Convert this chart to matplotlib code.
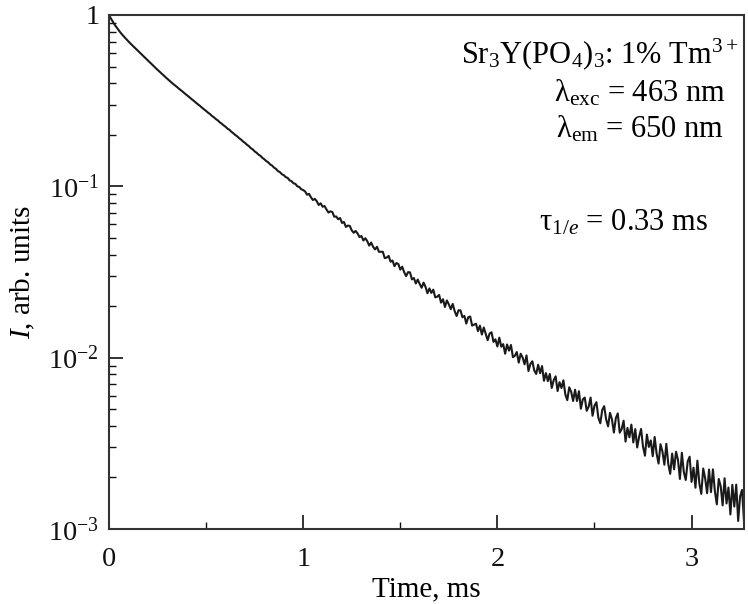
import numpy as np
import matplotlib
matplotlib.use("Agg")
import matplotlib.pyplot as plt
from matplotlib.ticker import LogLocator, NullFormatter, MultipleLocator

# decay curve: log10 of intensity, one value every 0.01 ms
time_step_ms = 0.01
log_intensity = [
    0.000, -0.021, -0.040, -0.058, -0.074, -0.089, -0.104, -0.117, -0.130, -0.142,
    -0.154, -0.166, -0.177, -0.188, -0.199, -0.210, -0.221, -0.232, -0.243, -0.254,
    -0.265, -0.276, -0.287, -0.298, -0.309, -0.320, -0.330, -0.341, -0.351, -0.362,
    -0.372, -0.382, -0.392, -0.402, -0.411, -0.420, -0.430, -0.439, -0.448, -0.458,
    -0.467, -0.476, -0.486, -0.495, -0.504, -0.514, -0.523, -0.532, -0.542, -0.551,
    -0.560, -0.570, -0.578, -0.589, -0.597, -0.607, -0.615, -0.626, -0.634, -0.644,
    -0.652, -0.663, -0.670, -0.681, -0.690, -0.700, -0.708, -0.719, -0.727, -0.738,
    -0.746, -0.757, -0.765, -0.777, -0.784, -0.796, -0.804, -0.815, -0.822, -0.834,
    -0.842, -0.853, -0.860, -0.872, -0.879, -0.891, -0.898, -0.911, -0.917, -0.929,
    -0.935, -0.946, -0.951, -0.965, -0.970, -0.982, -0.986, -1.000, -1.004, -1.017,
    -1.022, -1.030, -1.049, -1.044, -1.064, -1.080, -1.073, -1.087, -1.109, -1.099,
    -1.119, -1.115, -1.135, -1.153, -1.146, -1.150, -1.177, -1.176, -1.192, -1.185,
    -1.214, -1.208, -1.237, -1.229, -1.231, -1.257, -1.271, -1.260, -1.275, -1.296,
    -1.290, -1.316, -1.303, -1.320, -1.346, -1.328, -1.353, -1.368, -1.353, -1.382,
    -1.382, -1.382, -1.419, -1.416, -1.406, -1.440, -1.433, -1.466, -1.448, -1.453,
    -1.486, -1.469, -1.501, -1.524, -1.501, -1.502, -1.543, -1.535, -1.567, -1.544,
    -1.570, -1.592, -1.562, -1.587, -1.624, -1.596, -1.622, -1.603, -1.648, -1.644,
    -1.634, -1.679, -1.659, -1.704, -1.666, -1.689, -1.717, -1.686, -1.728, -1.757,
    -1.723, -1.724, -1.764, -1.756, -1.801, -1.764, -1.760, -1.813, -1.807, -1.802,
    -1.845, -1.813, -1.865, -1.824, -1.862, -1.898, -1.859, -1.852, -1.908, -1.893,
    -1.935, -1.883, -1.936, -1.921, -1.977, -1.923, -1.959, -1.926, -1.997, -1.989,
    -1.967, -2.029, -1.977, -1.999, -2.039, -1.987, -2.078, -2.037, -2.021, -2.075,
    -2.095, -2.041, -2.091, -2.049, -2.135, -2.090, -2.137, -2.095, -2.177, -2.131,
    -2.109, -2.195, -2.143, -2.177, -2.132, -2.215, -2.248, -2.173, -2.199, -2.253,
    -2.187, -2.253, -2.196, -2.298, -2.243, -2.233, -2.310, -2.286, -2.233, -2.339,
    -2.280, -2.260, -2.350, -2.383, -2.305, -2.283, -2.360, -2.401, -2.322, -2.360,
    -2.437, -2.353, -2.325, -2.438, -2.417, -2.368, -2.490, -2.410, -2.465, -2.391,
    -2.495, -2.417, -2.524, -2.461, -2.416, -2.520, -2.572, -2.449, -2.521, -2.483,
    -2.575, -2.463, -2.560, -2.618, -2.505, -2.548, -2.625, -2.503, -2.620, -2.678,
    -2.560, -2.652, -2.549, -2.596, -2.708, -2.555, -2.667, -2.714, -2.606, -2.578,
    -2.725, -2.642, -2.759, -2.601, -2.733, -2.795, -2.647, -2.704, -2.791, -2.653,
    -2.785, -2.652, -2.779, -2.856, -2.708, -2.750, -2.862, -2.704, -2.851, -2.758,
    -2.915, -2.742, -2.869, -2.741, -2.953, -2.810, -2.772, -2.954,
]
time_ms = np.arange(len(log_intensity)) * time_step_ms
intensity = 10.0 ** np.array(log_intensity)

y_ticks = [1e-3, 1e-2, 1e-1, 1]
y_tick_labels = ["$10^{-3}$", "$10^{-2}$", "$10^{-1}$", "1"]
x_ticks = [0, 1, 2, 3]

plt.rcParams["font.family"] = ["Liberation Serif", "DejaVu Serif"]
plt.rcParams["mathtext.fontset"] = "custom"
plt.rcParams["mathtext.rm"] = "Liberation Serif"
plt.rcParams["mathtext.it"] = "Liberation Serif:italic"
plt.rcParams["mathtext.bf"] = "Liberation Serif:bold"

W, H = 748, 604
fig = plt.figure(figsize=(W / 100, H / 100), dpi=100)
ax = fig.add_axes([109 / W, 1 - 529 / H, (744 - 109) / W, (529 - 15) / H])

ax.plot(time_ms, intensity, color="#1a1a1a", linewidth=1.5)

ax.set_yscale("log")
ax.set_ylim(1e-3, 1)
ax.set_xlim(0, 3.27)
ax.set_yticks(y_ticks)
ax.set_yticklabels(y_tick_labels)
ax.yaxis.set_minor_locator(LogLocator(base=10, subs=np.arange(2, 10)))
ax.yaxis.set_minor_formatter(NullFormatter())
ax.set_xticks(x_ticks)
ax.xaxis.set_minor_locator(MultipleLocator(0.5))

ax.tick_params(which="both", direction="in", top=False, right=False, labelsize=20.5, colors="#111111")
ax.tick_params(which="major", length=10, width=1.2, pad=7)
ax.tick_params(which="minor", length=5, width=1.0)
ax.tick_params(axis="x", which="major", pad=13)
for s in ax.spines.values():
    s.set_linewidth(1.5)
    s.set_color("#333333")

ax.set_xlabel("Time, ms", fontsize=21, labelpad=3)
fig.text(23 / W, 1 - 272 / H, "$I$, arb. units", rotation=90, fontsize=21,
         ha="center", va="center")

# annotation block, right aligned
fig.text(738 / W, 1 - 63 / H, r"Sr$_3$Y(PO$_4$)$_3$: 1% Tm$^{3+}$", fontsize=22,
         ha="right", va="baseline")
fig.text(726 / W, 1 - 102 / H, r"λ$_{\rm exc}$ = 463 nm", fontsize=22,
         ha="right", va="baseline")
fig.text(724 / W, 1 - 137 / H, r"λ$_{\rm em}$ = 650 nm", fontsize=22,
         ha="right", va="baseline")
fig.text(708 / W, 1 - 230 / H, r"τ$_{1/e}$ = 0.33 ms", fontsize=22,
         ha="right", va="baseline")

fig.savefig("out.png", dpi=100)
